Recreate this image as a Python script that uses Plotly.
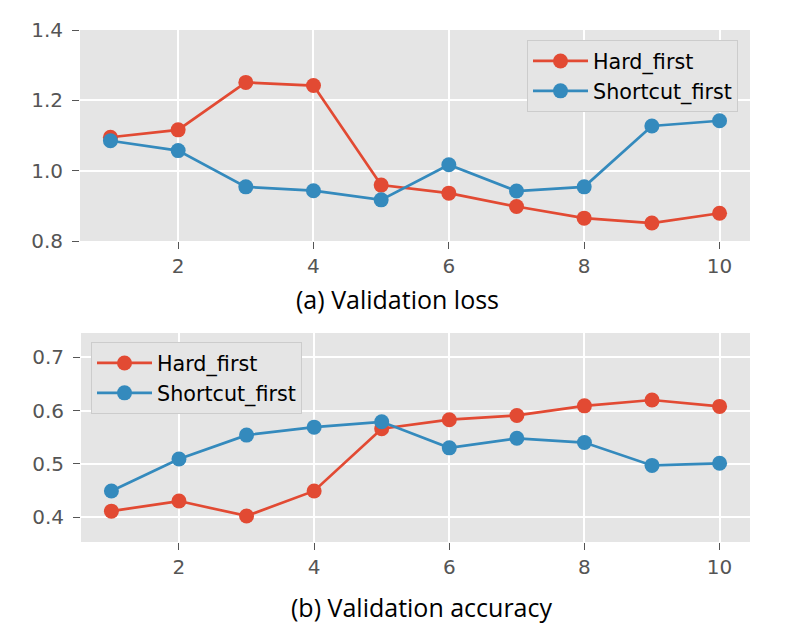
import plotly.graph_objects as go

epochs = [1, 2, 3, 4, 5, 6, 7, 8, 9, 10]

loss_hard = [1.095, 1.116, 1.251, 1.242, 0.959, 0.936, 0.898, 0.865, 0.851, 0.879]
loss_shortcut = [1.085, 1.057, 0.954, 0.943, 0.917, 1.017, 0.942, 0.954, 1.127, 1.142]

acc_hard = [0.411, 0.430, 0.402, 0.449, 0.566, 0.583, 0.591, 0.609, 0.620, 0.608]
acc_shortcut = [0.449, 0.509, 0.554, 0.569, 0.579, 0.530, 0.548, 0.540, 0.497, 0.501]

series_names = ["Hard_first", "Shortcut_first"]
colors = ["#E24A33", "#348ABD"]

# page body adds an 8px offset, so the figure is a bit smaller than the window
OFF = 8
W, H = 789 - OFF, 631 - OFF


def px_x(p):
    return (p - OFF) / W


def px_y(p):
    return (H - (p - OFF)) / H


fig = go.Figure()

panels = [
    ("x", "y", "legend", [loss_hard, loss_shortcut]),
    ("x2", "y2", "legend2", [acc_hard, acc_shortcut]),
]
for xa, ya, lg, series in panels:
    for name, vals, color in zip(series_names, series, colors):
        fig.add_trace(go.Scatter(
            x=epochs, y=vals, name=name, mode="lines+markers",
            xaxis=xa, yaxis=ya, legend=lg,
            line=dict(color=color, width=2.7),
            marker=dict(color=color, size=15),
        ))

axis_common = dict(
    showgrid=True, gridcolor="white", gridwidth=1.5,
    zeroline=False, showline=False, automargin=False,
    ticks="outside", ticklen=7, tickwidth=1.2, tickcolor="#555555",
    tickfont=dict(family="DejaVu Sans", size=20, color="#555555"),
)
y_extra = dict(ticklabelstandoff=5)

legend_common = dict(
    bgcolor="#E5E5E5", bordercolor="#CCCCCC", borderwidth=1,
    font=dict(family="DejaVu Sans", size=20.7, color="black"),
    itemwidth=55,
)

fig.update_layout(
    width=W, height=H,
    margin=dict(l=0, r=0, t=0, b=0),
    paper_bgcolor="white",
    plot_bgcolor="#E5E5E5",
    xaxis=dict(domain=[px_x(80), px_x(750)], range=[0.55, 10.45],
               tickvals=[2, 4, 6, 8, 10], anchor="y", **axis_common),
    yaxis=dict(domain=[px_y(241), px_y(30)], range=[0.8, 1.4],
               tickvals=[0.8, 1.0, 1.2, 1.4], tickformat=".1f",
               anchor="x", **axis_common, **y_extra),
    xaxis2=dict(domain=[px_x(81), px_x(750)], range=[0.55, 10.45],
                tickvals=[2, 4, 6, 8, 10], anchor="y2", **axis_common),
    yaxis2=dict(domain=[px_y(542), px_y(333)], range=[0.353, 0.746],
                tickvals=[0.4, 0.5, 0.6, 0.7], tickformat=".1f",
                anchor="x2", **axis_common, **y_extra),
    legend=dict(x=px_x(738), y=px_y(40), xanchor="right", yanchor="top",
                **legend_common),
    legend2=dict(x=px_x(91), y=px_y(342), xanchor="left", yanchor="top",
                 **legend_common),
    annotations=[
        dict(text="(a) Validation loss", x=px_x(397), y=px_y(299),
             xref="paper", yref="paper", showarrow=False,
             xanchor="center", yanchor="middle",
             font=dict(family="Open Sans", size=25, color="black")),
        dict(text="(b) Validation accuracy", x=px_x(422), y=px_y(607),
             xref="paper", yref="paper", showarrow=False,
             xanchor="center", yanchor="middle",
             font=dict(family="Open Sans", size=25, color="black")),
    ],
)

fig.write_html("out.html")
